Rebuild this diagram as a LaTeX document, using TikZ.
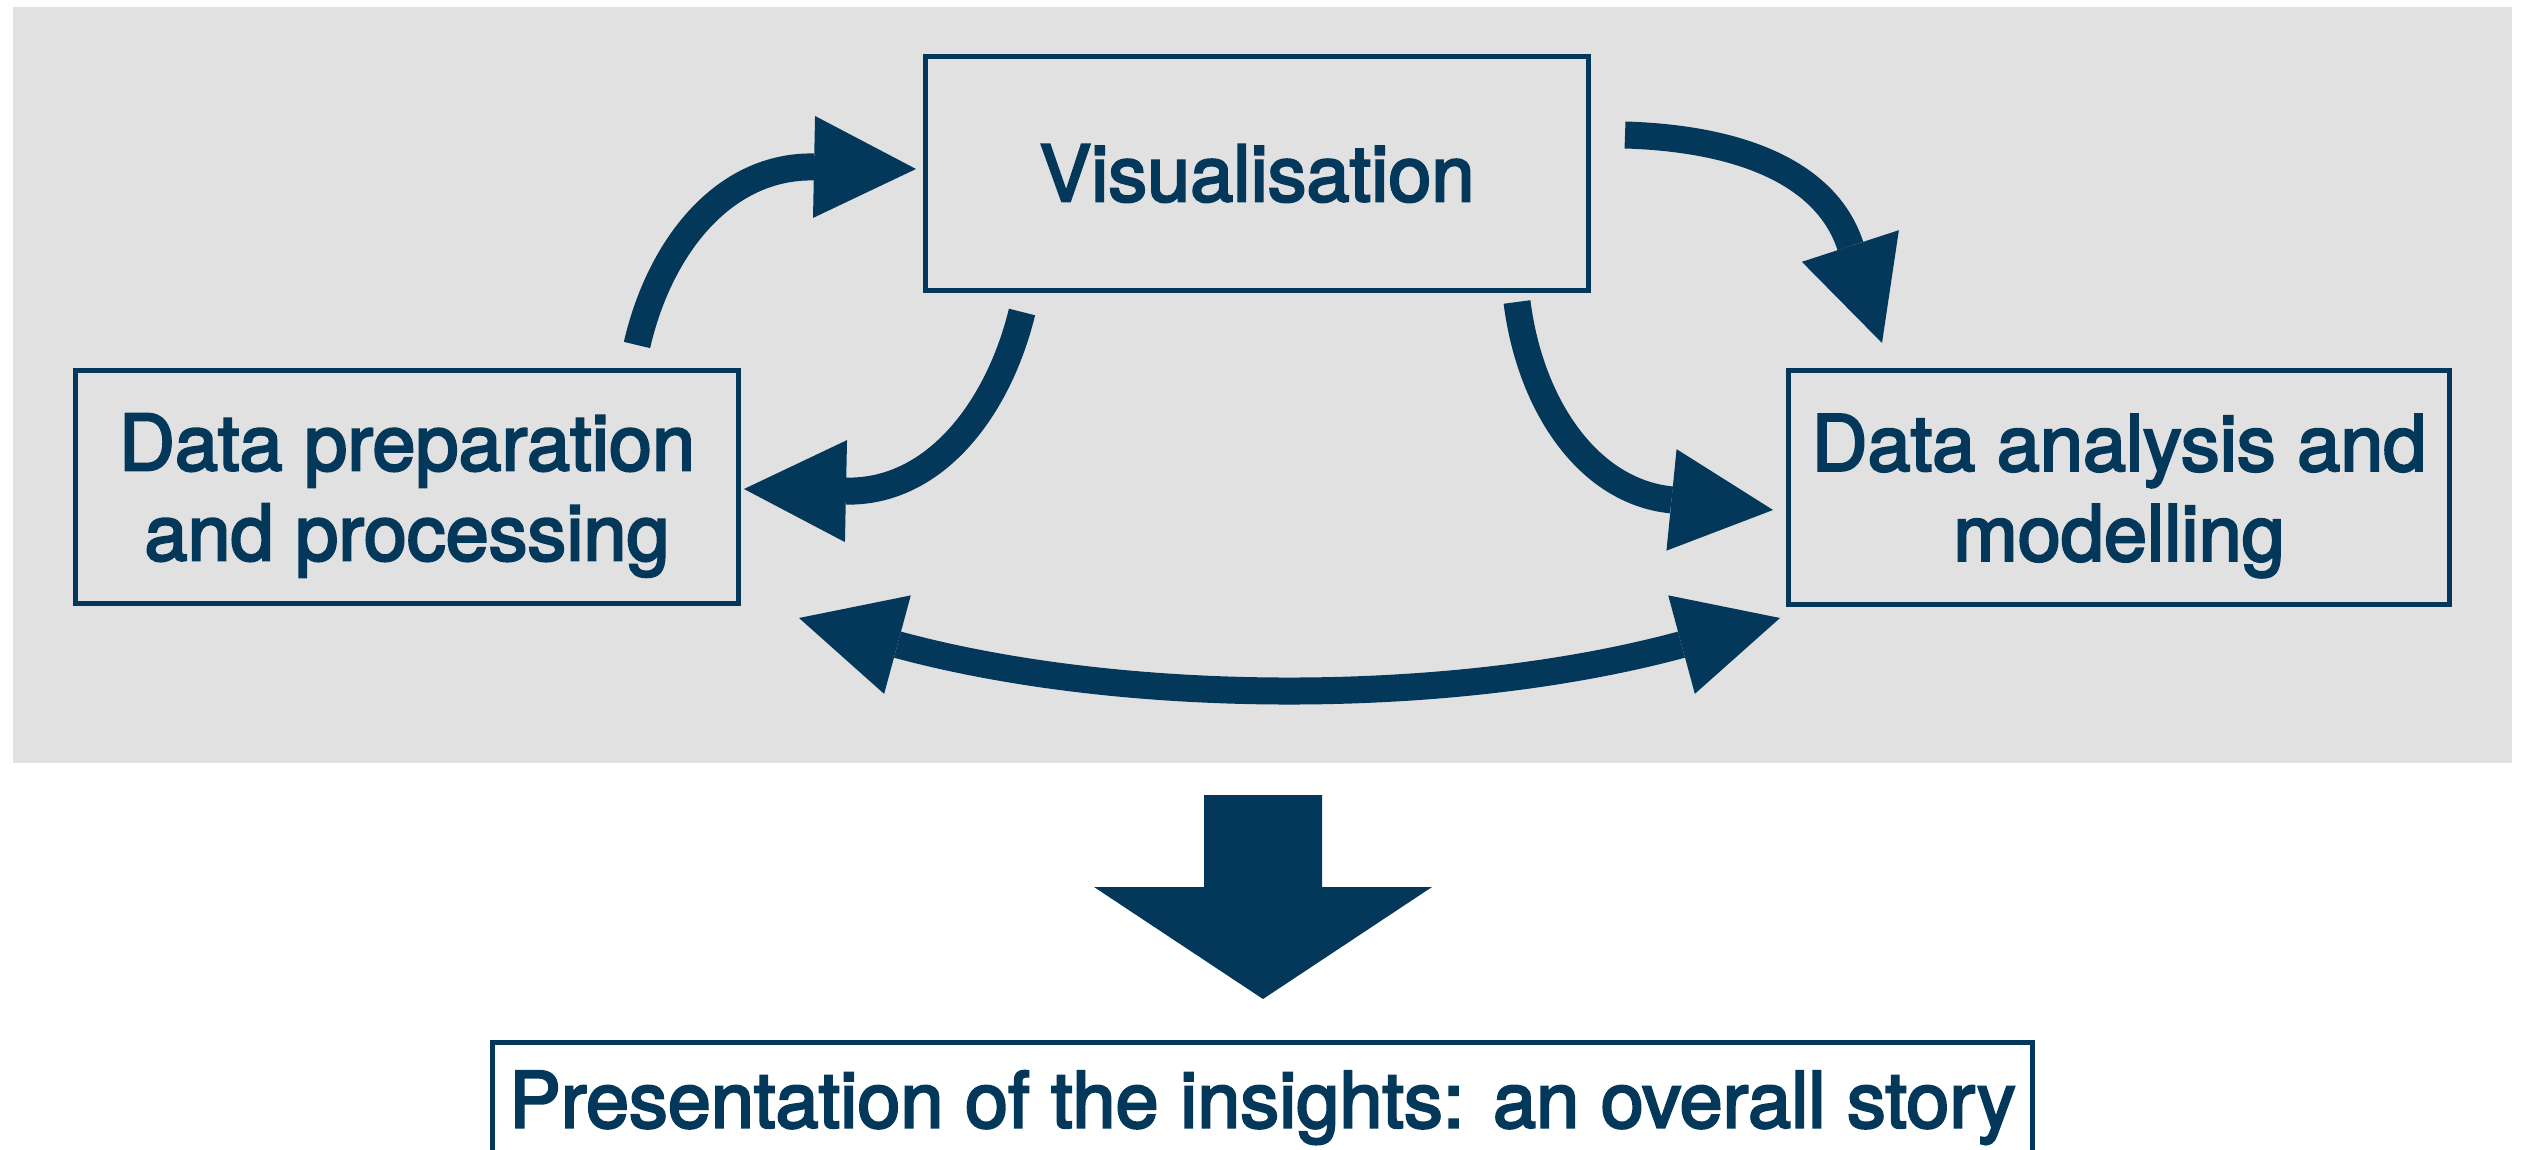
\documentclass[tikz,border=0pt]{standalone}
\usepackage{fontspec}
\setmainfont{TeX Gyre Heros}
\newfontfamily\medfont{TeX Gyre Heros}[FakeBold=3]
\usetikzlibrary{arrows.meta}
\definecolor{navy}{RGB}{3,56,90}
\definecolor{panelgrey}{RGB}{225,225,225}
\tikzset{
  boxnode/.style={draw=navy, line width=2pt, inner sep=0pt, text=navy,
    font=\fontsize{31}{36}\medfont, align=center},
  headtip/.tip={Triangle[length=40.8pt,width=40.8pt,line width=0pt]},
  flowarrow/.style={draw=navy, line width=10.8pt, -headtip},
}
\begin{document}
\begin{tikzpicture}[x=0.4pt,y=-0.4pt]
\useasboundingbox (0,0) rectangle (2525,1150);
\fill[white] (0,0) rectangle (2525,1150);
\fill[panelgrey] (13,7) rectangle (2512,763);

\node[boxnode, minimum width=265.2pt, minimum height=93.6pt] (vis) at (1257,173.5) {Visualisation};
\node[boxnode, minimum width=265.2pt, minimum height=93.2pt, text depth=0pt] (prep) at (407,487) {Data preparation\\and processing};
\node[boxnode, minimum width=264.4pt, minimum height=93.6pt, text depth=0pt] (ana) at (2119,487.5) {Data analysis and\\modelling};
\node[boxnode, minimum width=616pt, anchor=north, text height=34.2pt, text depth=24pt] (pres) at (1262.5,1039.5) {Presentation of the insights: an overall story};

% prep -> vis
\coordinate (a1s) at (637,345);
\coordinate (a1c) at (660,245);
\coordinate (a1d) at (725,165.2);
\coordinate (a1e) at (916,169);
% vis -> prep
\coordinate (a2s) at (1022,312);
\coordinate (a2c) at (998,410);
\coordinate (a2d) at (934,492.9);
\coordinate (a2e) at (744,489);
% vis -> analysis (upper)
\coordinate (a3s) at (1625,135);
\coordinate (a3c) at (1735,138.3);
\coordinate (a3d) at (1825.7,170.4);
\coordinate (a3e) at (1882,343);
% vis -> analysis (lower)
\coordinate (a4s) at (1517,302);
\coordinate (a4c) at (1530,405);
\coordinate (a4d) at (1588,491.6);
\coordinate (a4e) at (1773,510);
% prep <-> analysis
\coordinate (bl) at (799,618);
\coordinate (blc) at (1126,706.5);
\coordinate (brc) at (1452.5,706.5);
\coordinate (br) at (1780,618);

\draw[flowarrow] (a1s) .. controls (a1c) and (a1d) .. (a1e);
\draw[flowarrow] (a2s) .. controls (a2c) and (a2d) .. (a2e);
\draw[flowarrow] (a3s) .. controls (a3c) and (a3d) .. (a3e);
\draw[flowarrow] (a4s) .. controls (a4c) and (a4d) .. (a4e);
\draw[flowarrow, headtip-headtip] (bl) .. controls (blc) and (brc) .. (br);

\fill[navy] (1204,795) -- (1322,795) -- (1322,887) -- (1432,887) -- (1263,999) -- (1094,887) -- (1204,887) -- cycle;
\end{tikzpicture}
\end{document}
